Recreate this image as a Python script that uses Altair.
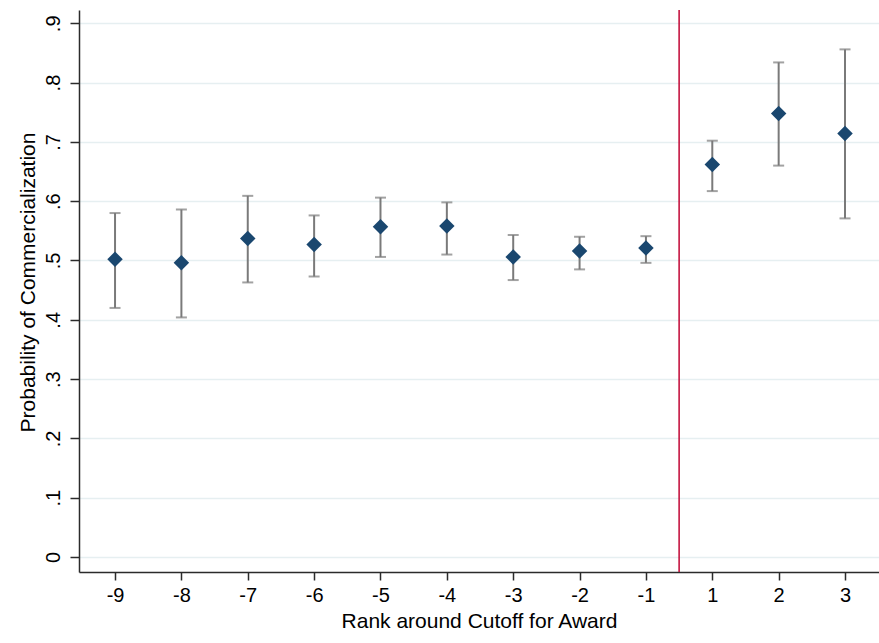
import altair as alt
import pandas as pd

ranks = ["-9", "-8", "-7", "-6", "-5", "-4", "-3", "-2", "-1", "1", "2", "3"]
estimates = [0.502, 0.496, 0.537, 0.527, 0.557, 0.558, 0.506, 0.516, 0.521, 0.662, 0.748, 0.714]
upper = [0.580, 0.586, 0.609, 0.576, 0.606, 0.598, 0.543, 0.540, 0.541, 0.702, 0.834, 0.856]
lower = [0.420, 0.404, 0.463, 0.473, 0.506, 0.510, 0.467, 0.485, 0.496, 0.617, 0.660, 0.571]
cutoff_position = [8.5]  # between rank -1 and rank 1
y_ticks = [0, 0.1, 0.2, 0.3, 0.4, 0.5, 0.6, 0.7, 0.8, 0.9]

df = pd.DataFrame({
    "pos": list(range(len(ranks))),
    "rank": ranks,
    "est": estimates,
    "hi": upper,
    "lo": lower,
})
cut = pd.DataFrame({"pos": cutoff_position})

FONT = "Liberation Sans"
label_arr = "[" + ",".join("'" + r + "'" for r in ranks) + "]"

x_scale = alt.Scale(domain=[-0.543, 11.512], nice=False, zero=False)
y_scale = alt.Scale(domain=[-0.0253, 0.9224], nice=False, zero=False)

x_axis = alt.Axis(
    values=list(range(len(ranks))),
    labelExpr=label_arr + "[datum.value]",
    title="Rank around Cutoff for Award",
    grid=False,
    tickSize=8,
    labelPadding=5,
    titleY=49,
    titleBaseline="middle",
)
y_axis = alt.Axis(
    values=y_ticks,
    labelExpr="datum.value == 0 ? '0' : replace(format(datum.value, '.1f'), '0.', '.')",
    title="Probability of Commercialization",
    labelAngle=270,
    tickSize=9,
    labelPadding=7,
    titleAngle=270,
    titleX=-51,
    titleY=272,
    titleAlign="center",
    titleBaseline="middle",
)

base = alt.Chart(df)

bars = base.mark_rule(color="#7a7a7a", strokeWidth=2).encode(
    x=alt.X("pos:Q", scale=x_scale, axis=x_axis),
    y=alt.Y("lo:Q", scale=y_scale, axis=y_axis),
    y2="hi:Q",
)
cap_hi = base.mark_tick(color="#7a7a7a", orient="horizontal", size=11, thickness=2).encode(
    x="pos:Q", y="hi:Q"
)
cap_lo = base.mark_tick(color="#7a7a7a", orient="horizontal", size=11, thickness=2).encode(
    x="pos:Q", y="lo:Q"
)
points = base.mark_point(shape="diamond", filled=True, size=240, color="#1a476f", opacity=1).encode(
    x="pos:Q", y="est:Q"
)
cutline = alt.Chart(cut).mark_rule(color="#c10534", strokeWidth=1.5).encode(
    x=alt.X("pos:Q", scale=x_scale)
)

chart = (
    alt.layer(cutline, bars, cap_hi, cap_lo, points)
    .properties(
        width=800,
        height=562,
        autosize=alt.AutoSizeParams(type="none"),
        padding={"left": 79, "top": 10, "right": 0, "bottom": 71},
        background="white",
    )
    .configure_view(strokeWidth=0)
    .configure_axis(
        labelFont=FONT,
        titleFont=FONT,
        labelFontSize=20,
        titleFontSize=21,
        labelColor="#000000",
        titleColor="#000000",
        titleFontWeight="normal",
        domainColor="#2b2b2b",
        domainWidth=1.5,
        tickColor="#2b2b2b",
        tickWidth=1.5,
        gridColor="#e6eff1",
        gridWidth=1.5,
    )
    .configure_axisX(grid=False)
)

chart.save("out.html", embed_options={"renderer": "svg", "actions": False})
